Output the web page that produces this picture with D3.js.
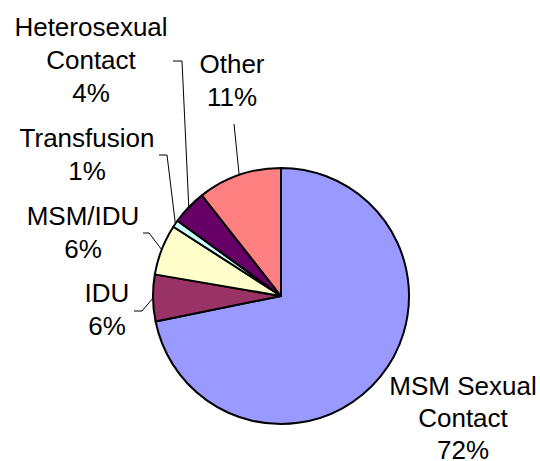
<!DOCTYPE html>
<html lang="en">
	<head>
		<meta charset="utf-8">
		<title>Pie chart: transmission categories</title>
		<script src="https://cdn.jsdelivr.net/npm/d3@7/dist/d3.min.js"></script>
		<style type="text/css">
			body { margin: 0; background: #fff; }
			text { font-family: "Liberation Sans", Arial, sans-serif; font-size: 26px; fill: #000; }
		</style>
	</head>
	<body>
		<script type="text/javascript">
			// data
			var categories = ["MSM Sexual Contact", "IDU", "MSM/IDU", "Transfusion", "Heterosexual Contact", "Other"];
			var values = [71.8, 5.9, 6.4, 0.9, 4.4, 10.6];
			var colors = ["#9999ff", "#993366", "#ffffcc", "#ccffff", "#660066", "#ff8080"];

			var w = 540;
			var h = 461;
			var cx = 281, cy = 296, r = 128;

			// label layout (centre x, first baseline, line step) and leader start points
			var labelAt = [
				{x: 463, y: 395, step: 32, lead: null},
				{x: 107, y: 302, step: 33, lead: [[134, 311], [142, 311]]},
				{x: 83,  y: 225, step: 33, lead: [[143, 233], [149, 233]]},
				{x: 87,  y: 147, step: 33, lead: [[159, 155], [167, 155]]},
				{x: 91,  y: 36,  step: 33, lead: [[173, 61], [182, 61]]},
				{x: 232, y: 73,  step: 33, lead: [[234, 124]]}
			];

			var svg = d3.select("body")
						.append("svg")
						.attr("width", w)
						.attr("height", h);

			var pie = d3.pie().sort(null).value(function(d) { return d; });
			var arcs = pie(values);
			var arc = d3.arc().innerRadius(0).outerRadius(r);
			var total = d3.sum(values);

			var g = svg.append("g")
				.attr("transform", "translate(" + cx + "," + cy + ")");

			g.selectAll("path")
			   .data(arcs)
			   .enter()
			   .append("path")
			   .attr("d", arc)
			   .attr("fill", function(d, i) { return colors[i]; })
			   .attr("stroke", "#000")
			   .attr("stroke-width", 2)
			   .attr("stroke-linejoin", "round");

			// leader lines to the slice edge
			arcs.forEach(function(d, i) {
				var lp = labelAt[i];
				if (!lp.lead) return;
				var a = (d.startAngle + d.endAngle) / 2;
				var end = [cx + r * Math.sin(a), cy - r * Math.cos(a)];
				var pts = lp.lead.concat([end]);
				svg.append("path")
					.attr("d", d3.line()(pts))
					.attr("fill", "none")
					.attr("stroke", "#000")
					.attr("stroke-width", 1);
			});

			// labels
			arcs.forEach(function(d, i) {
				var name = categories[i];
				var k = name.lastIndexOf(" ");
				var lines = k > 0 ? [name.slice(0, k), name.slice(k + 1)] : [name];
				lines.push(Math.round(values[i] / total * 100) + "%");
				var t = svg.append("text")
					.attr("text-anchor", "middle");
				lines.forEach(function(s, j) {
					t.append("tspan")
						.attr("x", labelAt[i].x)
						.attr("y", labelAt[i].y + j * labelAt[i].step)
						.text(s);
				});
			});
		</script>
	</body>
</html>
